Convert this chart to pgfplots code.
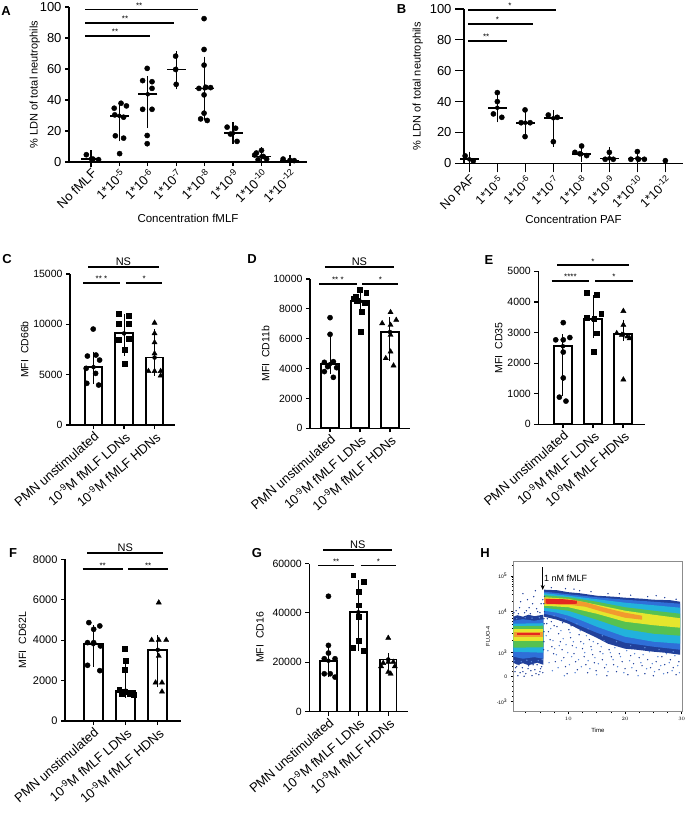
\documentclass[border=0pt]{standalone}
\usepackage{fontspec}
\setmainfont{Liberation Sans}
\usepackage{pgfplots}
\pgfplotsset{compat=1.18}
\usetikzlibrary{arrows.meta}
\newcommand\fs[1]{\fontsize{#1}{#1}\selectfont}
\pgfplotsset{
  prism/.style={
    scale only axis, axis lines=left, axis line style={line width=1.4pt,-},
    tick style={black, line width=1.2pt},
    major tick length=4pt, tick align=outside,
    /pgf/number format/assume math mode=true,
    /pgf/number format/1000 sep={},
    scaled y ticks=false, clip=false,
  },
  barpanel/.style={prism, ymin=0, xtick={0,1,2},
    xticklabels={PMN unstimulated, 10\textsuperscript{-9}M fMLF LDNs, 10\textsuperscript{-9}M fMLF HDNs},
    x tick label style={rotate=41, anchor=north east, font=\fs{13}, inner sep=1pt},
    y tick label style={font=\fs{10.5}},
    ylabel style={font=\fs{10.5}},
  },
  sig/.style={black, line width=1.8pt, forget plot},
  pts/.style={only marks, mark=*, mark size=2.6pt, black},
  ebar/.style={only marks, mark=none, error bars/.cd, y dir=both, y explicit,
     error bar style={line width=1pt, black}, error mark options={black, line width=1pt, mark size=4pt}},
  ebarA/.style={only marks, mark=none, error bars/.cd, y dir=both, y explicit,
     error bar style={line width=1.3pt, black}, error mark options={black, line width=1.3pt, mark size=5pt}},
  meanl/.style={only marks, mark=-, mark size=9.5pt, mark options={line width=1.6pt, black}},
  bars/.style={ybar, fill=white, draw=black, line width=1.8pt},
}
\definecolor{dblue}{HTML}{21409A}
\definecolor{mblue}{HTML}{2F6FD8}
\definecolor{lblue}{HTML}{5A86D6}
\definecolor{cyanb}{HTML}{22B2DC}
\definecolor{gr}{HTML}{56C151}
\definecolor{ye}{HTML}{E5E62D}
\definecolor{orr}{HTML}{F29A2E}
\definecolor{re}{HTML}{E4261F}
\begin{document}
\begin{tikzpicture}
\useasboundingbox (0pt,0pt) rectangle (695pt,-813pt);
% ---------------- A ----------------
\node[font=\bfseries\fs{13}] at (6pt,-11pt) {A};
\begin{axis}[prism, at={(69pt,-162pt)}, anchor=south west, width=238pt, height=155pt,
  xmin=-0.77, xmax=7.6, ymin=0, ymax=100, ytick={0,20,40,60,80,100},
  xtick={0,...,7},
  xticklabels={No fMLF, 1*10\textsuperscript{-5}, 1*10\textsuperscript{-6}, 1*10\textsuperscript{-7}, 1*10\textsuperscript{-8}, 1*10\textsuperscript{-9}, 1*10\textsuperscript{-10}, 1*10\textsuperscript{-12}},
  x tick label style={rotate=45, anchor=north east, font=\fs{13}, inner sep=1pt},
  y tick label style={font=\fs{13}},
  ylabel={\% LDN of total neutrophils}, ylabel style={font=\fs{11}}, ylabel shift=-7pt,
  xlabel={Concentration fMLF}, xlabel style={font=\fs{11.5}}]
\addplot[ebarA] table[x=x,y=y,y error plus=ep,y error minus=em] {
x y ep em
0 2 2.5 2
1 29.8 6.4 13.3
2 43.7 8.5 18.7
3 59.7 8.6 9.6
4 47.5 17.2 17.1
5 18.6 3.7 3.8
6 3.6 2.6 2.6
7 1 0.5 0.5
};
\addplot[meanl] coordinates {(0,2) (1,29.8) (2,43.7) (3,59.7) (4,47.5) (5,18.6) (6,3.6) (7,1)};
\addplot[pts] coordinates {
(-0.16,4.7) (0.07,1.9) (0.27,1.5)
(0.82,34.7) (1.06,37.9) (1.25,36.2) (0.84,30.4) (1.15,28.9) (0.86,16.9) (1.15,15.4) (1.01,5.4)
(1.98,60.4) (1.82,52.5) (2.15,51.8) (2.15,47.5) (1.82,34) (2.15,34) (1.98,17.1) (1.98,11.8)
(2.98,68.3) (2.98,59.7) (3,50.1)
(3.98,92.5) (3.98,72.6) (3.98,62.5) (3.8,47.5) (4.04,48.2) (4.21,48) (3.98,43.3) (3.98,31.5) (3.86,27.8) (4.09,26.8)
(4.79,22.5) (5.09,21.8) (4.91,18) (5.14,13.3)
(6,7.5) (5.82,5.8) (6.06,3.6) (5.88,1.5) (6.18,1.9) (5.76,4.5)
(6.76,1.9) (7,1) (7.15,0.9)};
\addplot[sig] coordinates {(-0.2,98.4) (3.76,98.4)};
\addplot[sig] coordinates {(-0.2,89.9) (2.92,89.9)};
\addplot[sig] coordinates {(-0.2,81.3) (2.09,81.3)};
\node[font=\fs{8}, anchor=south, inner sep=1pt] at (axis cs:1.7,98.4) {**};
\node[font=\fs{8}, anchor=south, inner sep=1pt] at (axis cs:1.2,89.9) {**};
\node[font=\fs{8}, anchor=south, inner sep=1pt] at (axis cs:0.85,81.3) {**};
\end{axis}
% ---------------- B ----------------
\node[font=\bfseries\fs{13}] at (401.5pt,-9.5pt) {B};
\begin{axis}[prism, at={(464pt,-163.3pt)}, anchor=south west, width=219pt, height=154.3pt,
  xmin=-0.19, xmax=7.63, ymin=0, ymax=100, ytick={0,20,40,60,80,100},
  major tick length=9pt,
  xtick={0,...,7},
  xticklabels={No PAF, 1*10\textsuperscript{-5}, 1*10\textsuperscript{-6}, 1*10\textsuperscript{-7}, 1*10\textsuperscript{-8}, 1*10\textsuperscript{-9}, 1*10\textsuperscript{-10}, 1*10\textsuperscript{-12}},
  x tick label style={rotate=45, anchor=north east, font=\fs{12.5}, inner sep=1pt},
  y tick label style={font=\fs{13}},
  ylabel={\% LDN of total neutrophils}, ylabel style={font=\fs{11}},
  xlabel={Concentration PAF}, xlabel style={font=\fs{11.5}}]
\addplot[ebarA] table[x=x,y=y,y error plus=ep,y error minus=em] {
x y ep em
0 2.6 1.7 2
1 36 8 6.2
2 26.3 5.7 6.9
3 29.2 2.1 15.2
4 6 3 1.7
5 3.2 3.9 3.2
6 3.2 2.8 3.2
};
\addplot[meanl] coordinates {(0,2.6) (1,36) (2,26.3) (3,29.2) (4,6) (5,3.2) (6,3.2)};
\addplot[pts] coordinates {
(-0.15,4.8) (0.14,1.5)
(1,45.8) (1,40) (0.86,32) (1.16,29.8)
(1.99,34.6) (1.85,26.3) (2.17,26.3) (1.99,17.3)
(2.82,31.3) (3.14,29.8) (3,14)
(4.01,11.2) (3.77,7.1) (4.19,5) (3.95,6.2)
(5,7.1) (4.85,2.6) (5.14,2.6)
(6,7.6) (5.77,2.6) (6.04,2.6) (6.25,2.6)
(7,1.7)};
\addplot[sig] coordinates {(-0.04,99.4) (3.1,99.4)};
\addplot[sig] coordinates {(-0.04,90.3) (2.26,90.3)};
\addplot[sig] coordinates {(-0.04,79.3) (1.33,79.3)};
\node[font=\fs{8}, anchor=south, inner sep=1pt] at (axis cs:1.45,99.4) {*};
\node[font=\fs{8}, anchor=south, inner sep=1pt] at (axis cs:1.0,90.3) {*};
\node[font=\fs{8}, anchor=south, inner sep=1pt] at (axis cs:0.6,79.3) {**};
\end{axis}
% ---------------- C ----------------
\node[font=\bfseries\fs{13}] at (7pt,-259pt) {C};
\begin{axis}[barpanel, at={(70pt,-425pt)}, anchor=south west, width=105pt, height=151pt,
  xmin=-0.77, xmax=2.67, ymax=15000, ytick={0,5000,10000,15000}, ylabel={MFI\ \ CD66b}, ylabel shift=-2pt]
\addplot[bars, bar width=17.5pt] coordinates {(0,5750) (1,9100) (2,6700)};
\addplot[ebar] table[x=x,y=y,y error plus=ep,y error minus=em] {
x y ep em
0 5750 1150 1300
1 9100 1500 1800
2 6700 2400 1400
};
\addplot[pts] coordinates {(-0.01,9530) (-0.2,6850) (0.08,6950) (0.2,6450) (-0.24,5630) (0.07,5130) (-0.22,4140) (0.17,3970)};
\addplot[pts, mark=square*, mark size=2.4pt] coordinates {(0.83,11020) (1.15,10820) (0.83,10100) (1.15,10100) (0.83,8510) (1.15,8610) (1.01,7450) (1.01,6060)};
\addplot[pts, mark=triangle*, mark size=3pt] coordinates {(2,10150) (2,9100) (2,8200) (2,7100) (1.8,5350) (2,5350) (2.2,5350) (2.2,4900)};
\addplot[sig] coordinates {(-0.18,15670) (2.14,15670)};
\addplot[sig] coordinates {(-0.34,14100) (0.86,14100)};
\addplot[sig] coordinates {(1.06,14100) (2.26,14100)};
\node[font=\fs{11}, anchor=south, inner sep=1pt] at (axis cs:0.98,15670) {NS};
\node[font=\fs{8}, anchor=south, inner sep=1pt] at (axis cs:0.26,14100) {** *};
\node[font=\fs{8}, anchor=south, inner sep=1pt] at (axis cs:1.66,14100) {*};
\end{axis}
% ---------------- D ----------------
\node[font=\bfseries\fs{13}] at (252pt,-259pt) {D};
\begin{axis}[barpanel, at={(310pt,-428.3pt)}, anchor=south west, width=100pt, height=149.3pt,
  xmin=-0.67, xmax=2.67, ymax=10000, ytick={0,2000,4000,6000,8000,10000}, ylabel={MFI\ \ CD11b}, ylabel shift=-3pt]
\addplot[bars, bar width=18pt] coordinates {(0,4300) (1,8500) (2,6450)};
\addplot[ebar] table[x=x,y=y,y error plus=ep,y error minus=em] {
x y ep em
0 4300 1600 400
1 8500 550 600
2 6450 750 1650
};
\addplot[pts] coordinates {(0,7410) (0,6295) (-0.19,4420) (0.11,4464) (-0.08,4130) (0.22,4060) (-0.19,3800) (0.11,3415)};
\addplot[pts, mark=square*, mark size=2.4pt] coordinates {(0.99,9310) (1.21,9085) (0.77,8705) (0.88,8550) (1.16,8415) (1.05,7790) (1.02,6450) (0.85,8820)};
\addplot[pts, mark=triangle*, mark size=3pt] coordinates {(2.02,7770) (1.74,7030) (2.21,7254) (2.02,6920) (2.02,6250) (2.02,5134) (1.86,4690) (2.12,4200)};
\addplot[sig] coordinates {(-0.17,10784) (2.13,10784)};
\addplot[sig] coordinates {(-0.36,9686) (0.89,9686)};
\addplot[sig] coordinates {(1.08,9686) (2.28,9686)};
\node[font=\fs{11}, anchor=south, inner sep=1pt] at (axis cs:0.98,10784) {NS};
\node[font=\fs{8}, anchor=south, inner sep=1pt] at (axis cs:0.26,9686) {** *};
\node[font=\fs{8}, anchor=south, inner sep=1pt] at (axis cs:1.68,9686) {*};
\end{axis}
% ---------------- E ----------------
\node[font=\bfseries\fs{13}] at (489pt,-260pt) {E};
\begin{axis}[barpanel, at={(538.3pt,-424.3pt)}, anchor=south west, width=106.7pt, height=153pt,
  xmin=-0.82, xmax=2.73, ymax=5000, ytick={0,1000,2000,3000,4000,5000}, ylabel={MFI\ \ CD35}, ylabel shift=-2pt]
\addplot[bars, bar width=17.5pt] coordinates {(0,2550) (1,3430) (2,2940)};
\addplot[ebar] table[x=x,y=y,y error plus=ep,y error minus=em] {
x y ep em
0 2550 270 1510
1 3430 660 480
2 2940 340 90
};
\addplot[pts] coordinates {(0.01,3322) (-0.24,2760) (0.01,2760) (0.23,2835) (0.01,2360) (0.01,1515) (-0.12,887) (0.1,758)};
\addplot[pts, mark=square*, mark size=2.4pt] coordinates {(0.79,4297) (1.12,4243) (1.27,3626) (0.79,3485) (1.04,3463) (1.12,2976) (1.01,2360)};
\addplot[pts, mark=triangle*, mark size=3pt] coordinates {(2.01,3701) (2.01,3247) (1.79,2976) (1.96,2922) (2.14,2868) (2.22,2810) (2.01,1461)};
\addplot[sig] coordinates {(-0.19,5195) (2.2,5195)};
\addplot[sig] coordinates {(-0.38,4685) (0.87,4685)};
\addplot[sig] coordinates {(1.07,4685) (2.32,4685)};
\node[font=\fs{8}, anchor=south, inner sep=1pt] at (axis cs:1.0,5195) {*};
\node[font=\fs{8}, anchor=south, inner sep=1pt] at (axis cs:0.25,4685) {****};
\node[font=\fs{8}, anchor=south, inner sep=1pt] at (axis cs:1.7,4685) {*};
\end{axis}
% ---------------- F ----------------
\node[font=\bfseries\fs{13}] at (13pt,-553pt) {F};
\begin{axis}[barpanel, at={(65pt,-721pt)}, anchor=south west, width=116pt, height=161.7pt,
  xmin=-0.88, xmax=2.72, ymax=8000, ytick={0,2000,4000,6000,8000}, ylabel={MFI\ \ CD62L},
  y tick label style={font=\fs{11}}]
\addplot[bars, bar width=19pt] coordinates {(0,3800) (1,1500) (2,3520)};
\addplot[ebar] table[x=x,y=y,y error plus=ep,y error minus=em] {
x y ep em
0 3800 750 910
1 1500 1220 150
2 3520 525 1654
};
\addplot[pts] coordinates {(-0.14,4868) (0.2,4703) (0.01,4538) (-0.18,3878) (0.01,3878) (0.22,3713) (-0.18,2756) (0.2,2492)};
\addplot[pts, mark=square*, mark size=2.4pt] coordinates {(0.97,3597) (1,2970) (0.97,2525) (0.8,1535) (0.97,1452) (1.13,1370) (1.24,1287) (0.89,1370)};
\addplot[pts, mark=triangle*, mark size=3pt] coordinates {(2.03,5858) (1.81,4006) (2.03,4006) (2.26,4006) (2.03,3218) (1.93,1898) (2.13,1898) (2.13,1452)};
\addplot[sig] coordinates {(-0.19,8330) (2.17,8330)};
\addplot[sig] coordinates {(-0.33,7510) (0.91,7510)};
\addplot[sig] coordinates {(1.08,7510) (2.32,7510)};
\node[font=\fs{11}, anchor=south, inner sep=1pt] at (axis cs:0.99,8330) {NS};
\node[font=\fs{8}, anchor=south, inner sep=1pt] at (axis cs:0.29,7510) {**};
\node[font=\fs{8}, anchor=south, inner sep=1pt] at (axis cs:1.7,7510) {**};
\end{axis}
% ---------------- G ----------------
\node[font=\bfseries\fs{13}] at (257pt,-553pt) {G};
\begin{axis}[barpanel, at={(309.3pt,-711.5pt)}, anchor=south west, width=99pt, height=148pt,
  xmin=-0.64, xmax=2.67, ymax=60000, ytick={0,20000,40000,60000}, ylabel={MFI\ \ CD16}, ylabel shift=2pt]
\addplot[bars, bar width=16.5pt] coordinates {(0,20600) (1,40200) (2,21100)};
\addplot[ebar] table[x=x,y=y,y error plus=ep,y error minus=em] {
x y ep em
0 20600 5500 5100
1 40200 11400 14100
2 21100 900 2800
};
\addplot[pts] coordinates {(0,46730) (0,26820) (0,23700) (-0.14,21400) (0.22,21400) (-0.14,15300) (0.06,15300) (0.22,13950)};
\addplot[pts, mark=square*, mark size=2.4pt] coordinates {(0.83,55260) (1.17,52550) (1,48490) (1,43070) (1,38330) (1,28850) (0.83,25730) (1.17,24790)};
\addplot[pts, mark=triangle*, mark size=3pt] coordinates {(2,29800) (1.83,19640) (2,20100) (2.17,20100) (1.76,18300) (2.22,18300) (2,16000) (2.08,15300)};
\addplot[sig] coordinates {(-0.17,65450) (2.14,65450)};
\addplot[sig] coordinates {(-0.34,59230) (0.87,59230)};
\addplot[sig] coordinates {(1.08,59230) (2.26,59230)};
\node[font=\fs{11}, anchor=south, inner sep=1pt] at (axis cs:0.98,65450) {NS};
\node[font=\fs{8}, anchor=south, inner sep=1pt] at (axis cs:0.26,59230) {**};
\node[font=\fs{8}, anchor=south, inner sep=1pt] at (axis cs:1.67,59230) {*};
\end{axis}
% ---------------- H ----------------
\node[font=\bfseries\fs{13}] at (485pt,-553pt) {H};
\begin{axis}[scale only axis, at={(513.3pt,-711.7pt)}, anchor=south west, width=169pt, height=150.7pt,
  xmin=0.3, xmax=30.1, ymin=0, ymax=150.7,
  axis line style={draw=black!45, line width=0.8pt},
  xtick={10,20,30}, minor xtick={2.5,5,7.5,12.5,15,17.5,22.5,25,27.5},
  ytick={10,35,59,100,135.7},
  yticklabels={-10\textsuperscript{3}, 0, 10\textsuperscript{3}, 10\textsuperscript{4}, 10\textsuperscript{5}},
  minor ytick={15,20,25,30,40,45,50,55,71.3,78.6,83.7,87.7,90.9,93.6,96,98.1,110.7,117,121.5,125,127.8,130.2,132.2,134,146.4},
  tick pos=left, tick align=outside, major tick length=2.5pt, minor tick length=1.5pt,
  tick style={black, line width=0.6pt},
  tick label style={font=\fs{5}},
  xlabel={Time}, xlabel style={font=\fs{6}},
  ylabel={FLUO-4}, ylabel style={font=\fs{5.5}},
  clip=true]
% left segment
\addplot[fill=dblue, draw=none] coordinates {(0.3,95) (1,96.5) (2,95) (3,97) (4,95.5) (5.6,97) (5.6,47) (4.5,49) (3,46.5) (2,48.5) (1,47) (0.3,49)} -- cycle;
\addplot[fill=mblue, draw=none] coordinates {(0.3,91) (2,92.5) (4,91) (5.6,92.5) (5.6,53) (4,54.5) (2,53) (0.3,55)} -- cycle;
\addplot[fill=cyanb, draw=none] coordinates {(0.3,88) (5.6,88.5) (5.6,59) (0.3,60)} -- cycle;
\addplot[fill=gr, draw=none] coordinates {(0.3,85.5) (5.6,86) (5.6,64.5) (0.3,64)} -- cycle;
\addplot[fill=ye, draw=none] coordinates {(0.3,82.5) (5.6,82.5) (5.6,71) (0.3,71)} -- cycle;
\addplot[fill=orr, draw=none] coordinates {(0.5,80) (5.5,80) (5.5,75) (0.5,75)} -- cycle;
\addplot[fill=re, draw=none] coordinates {(1,78.3) (5,78.3) (5,76.7) (1,76.7)} -- cycle;
% right segment
\addplot[fill=dblue, draw=none] coordinates {(5.75,122) (8,121.5) (10,119.5) (12,118.5) (15,116) (18,115) (20,114) (23,113) (25,112) (28,111.5) (29.7,110) (29.7,57) (27,59) (25,60) (22,62) (20,63) (17,68) (15,74) (12,82) (10,88) (8,92) (6.5,94) (5.75,95)} -- cycle;
\addplot[fill=mblue, draw=none] coordinates {(5.75,120) (10,117.5) (15,114.5) (20,112) (25,110) (29.7,108) (29.7,62) (25,65) (20,69) (15,79) (12,86) (10,91) (8,95) (5.75,98)} -- cycle;
\addplot[fill=cyanb, draw=none] coordinates {(5.75,118.5) (10,116) (15,112.5) (20,109) (25,106.5) (29.7,104) (29.7,68) (25,70) (20,75) (15,85) (12,92) (10,96) (8,99) (5.75,101)} -- cycle;
\addplot[fill=gr, draw=none] coordinates {(5.75,116.5) (10,114.5) (15,110) (20,104.5) (25,101) (29.7,98) (29.7,76) (25,78) (20,82.5) (15,92) (10,101) (5.75,104)} -- cycle;
\addplot[fill=ye, draw=none] coordinates {(5.75,114.5) (10,112.8) (15,107) (20,101) (25,97) (29.7,93.5) (29.7,84) (25,86.5) (20,90) (15,98) (10,104.5) (5.75,106)} -- cycle;
\addplot[fill=orr, draw=none] coordinates {(5.75,113.5) (10,112.3) (13,109.5) (16,104.5) (20,99) (23,96) (23,92) (20,94) (16,100) (13,105) (10,107) (5.75,107.5)} -- cycle;
\addplot[fill=re, draw=none] coordinates {(6,112.5) (9,112.5) (11.5,111) (11.5,108) (9,107.5) (6,108)} -- cycle;
% sparse events
\addplot[only marks, mark=*, mark size=0.45pt, color=dblue] coordinates {
(0.8,101) (1.6,110) (2.3,99) (3.1,104) (3.9,115) (4.6,100) (5.2,108) (1.2,98) (4.2,121) (2.8,112)
(0.4,99) (1.4,104) (2.0,118) (2.6,101) (3.3,98) (3.7,108) (4.4,103) (5.0,99) (5.5,112)
(0.6,40) (1.1,36) (1.9,44) (2.5,38) (3.0,46) (3.6,36) (4.1,42) (4.8,37) (5.3,45) (0.9,45) (2.2,35.5) (3.4,41) (4.5,47) (5.0,40) (1.5,39)
(0.7,44) (1.3,47) (2.0,40) (2.9,43) (3.8,47) (4.3,38) (5.1,43) (5.5,39)
(5.7,70) (5.7,80) (5.75,88) (5.8,100) (5.7,108) (5.8,115) (5.65,62) (5.7,93)
(7,124) (9.5,123) (12,121) (14,120) (17,118) (21,116.5) (24,115) (27,114) (29,112.5) (11,122.5) (19,118) (25.5,116)
(6.3,93) (7.0,90) (7.5,86) (9,89) (10.5,86) (6.2,88) (6.5,80) (6.8,72) (7.1,65) (7.4,58) (7.7,50) (8.0,85) (8.3,78) (8.6,70) (8.9,62) (9.2,54) (9.5,45) (9.8,38)
(10.1,82) (10.4,74) (10.7,66) (11.0,58) (11.3,50) (11.6,42) (11.9,77) (12.2,70) (12.5,63) (12.8,55) (13.1,47) (13.4,39) (13.7,72) (14.0,65) (14.3,57) (14.6,49) (14.9,41)
(15.2,68) (15.6,60) (16.0,52) (16.4,44) (16.8,36) (17.2,62) (17.6,55) (18.0,47) (18.5,40) (19.0,58) (19.5,50) (20.0,43) (20.5,37) (21.0,56) (21.5,48) (22.0,41)
(22.5,54) (23.0,46) (23.5,38) (24.0,52) (24.5,44) (25.0,36) (25.5,50) (26.0,42) (26.5,55) (27.0,47) (27.5,39) (28.0,52) (28.5,44) (29.0,37) (29.5,50)};
\addplot[only marks, mark=*, mark size=0.45pt, color=lblue] coordinates {
(6.1,76) (6.4,61) (6.6,49) (6.9,83) (7.2,41) (7.3,71) (7.6,63) (7.9,57) (8.2,44) (8.4,66) (8.7,81) (8.8,51) (9.1,73) (9.3,36) (9.6,67) (9.9,59) (10.2,47) (10.3,79) (10.6,55) (10.9,70)
(11.2,39) (11.4,64) (11.8,52) (12.1,81) (12.3,45) (12.7,68) (12.9,59) (13.2,76) (13.5,51) (13.8,43) (14.1,62) (14.4,70) (14.7,54) (15.0,37) (15.3,48) (15.8,65) (16.1,58) (16.3,71)
(16.7,47) (17.0,40) (17.4,59) (17.9,52) (18.2,64) (18.7,45) (19.2,55) (19.8,39) (20.3,61) (20.8,51) (21.2,44) (21.7,58) (22.3,36) (22.8,49) (23.2,57) (23.8,43) (24.3,60) (24.8,48)
(25.2,40) (25.8,55) (26.3,46) (26.8,38) (27.3,58) (27.8,49) (28.3,41) (28.8,56) (29.3,46) (29.6,39)
(0.5,51) (1.7,50) (2.7,51.5) (3.5,50) (4.7,51) (5.4,52) (0.9,93) (2.4,94) (3.6,93.5) (4.9,94)
(7.5,96) (9.5,93) (11.5,88) (13.5,83) (16,76) (18.5,70) (21,66) (23.5,64) (26,62) (28.5,60)};
\end{axis}
\draw[-{Stealth[length=5pt,width=4pt]}, line width=0.7pt] (542.7pt,-567.3pt) -- (542.7pt,-590pt);
\node[font=\fs{9}, anchor=west, inner sep=0pt] at (544pt,-578.3pt) {1 nM fMLF};
\end{tikzpicture}
\end{document}
